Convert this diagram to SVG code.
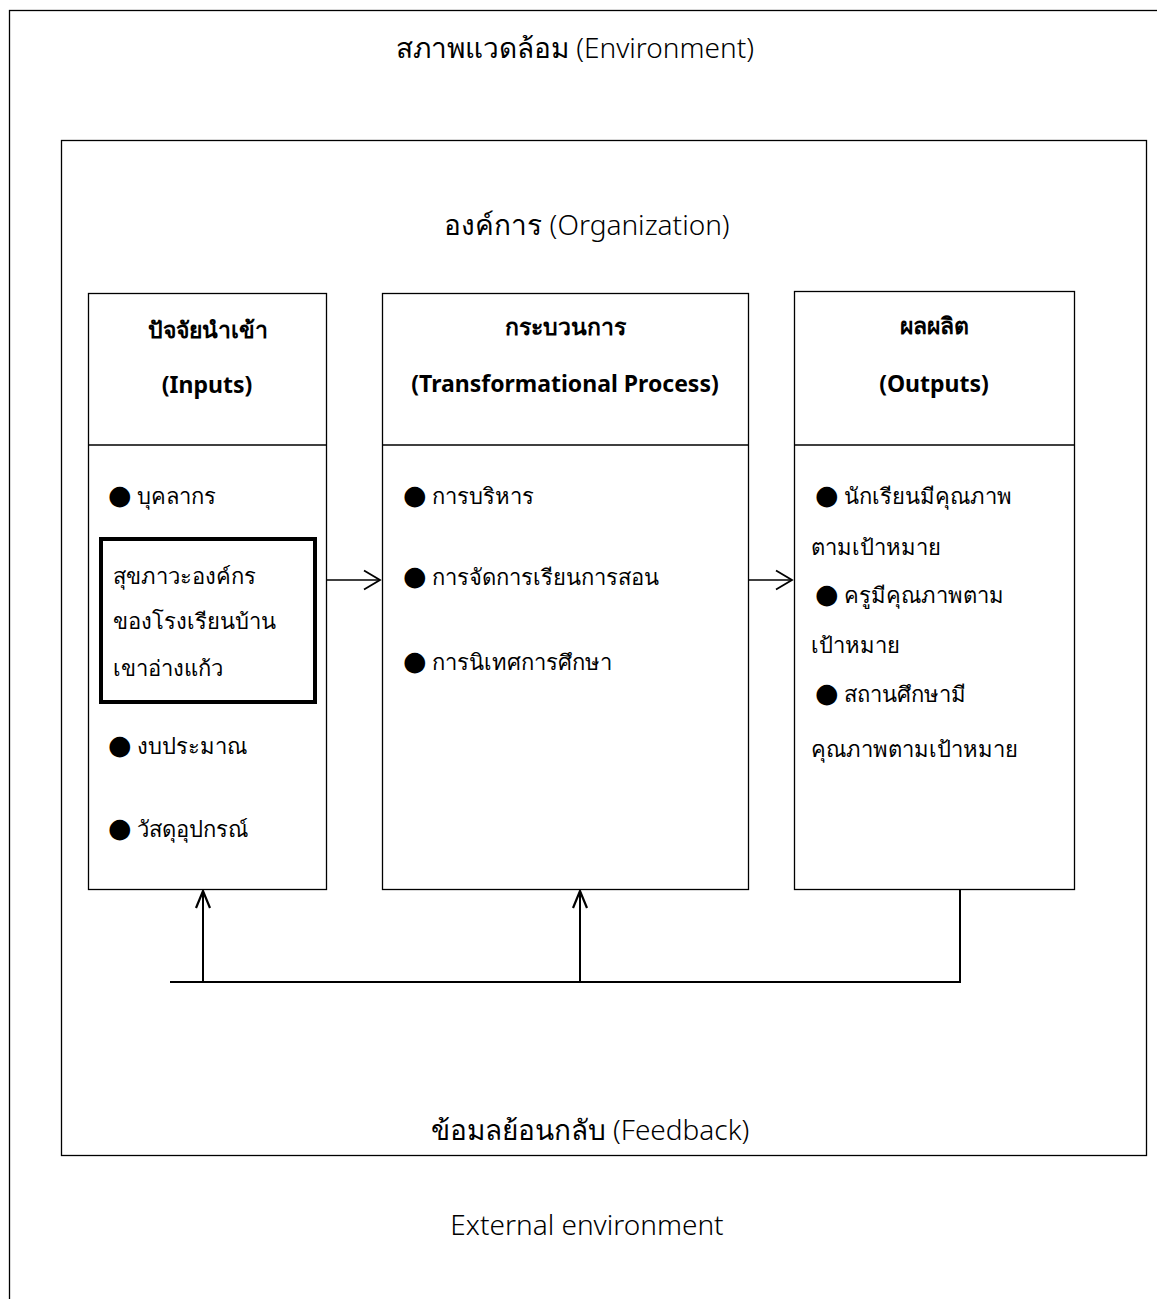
<svg xmlns="http://www.w3.org/2000/svg" width="1157" height="1299" viewBox="0 0 1157 1299">
<defs>
<style>
text{font-family:"Noto Sans","DejaVu Sans","Liberation Sans",sans-serif;fill:#000}
.lbl{font-size:28px;font-weight:300}
.hd{font-size:23px;font-weight:bold;text-anchor:middle}
.it{font-size:22px}
.bl{font-size:27px}
.box{fill:#fff;stroke:#000;stroke-width:1.3}
.ln{stroke:#000;stroke-width:1.3;fill:none}
.con{stroke:#000;stroke-width:2;fill:none}
</style>
<marker id="ah" viewBox="0 0 20 22" refX="18" refY="11" markerWidth="20" markerHeight="22" markerUnits="userSpaceOnUse" orient="auto">
<path d="M2 1.5 L18 11 L2 20.5" fill="none" stroke="#000" stroke-width="1.8"/>
</marker>
<marker id="ahu" viewBox="0 0 20 20" refX="18" refY="10" markerWidth="20" markerHeight="20" markerUnits="userSpaceOnUse" orient="auto">
<path d="M1 3 L18 10 L1 17" fill="none" stroke="#000" stroke-width="2.2"/>
</marker>
</defs>
<rect width="1157" height="1299" fill="#fff"/>
<g id="environment">
<rect x="9.5" y="10.5" width="1160" height="1300" class="box"/>
<text x="575" y="58" class="lbl" text-anchor="middle">สภาพแวดล้อม (Environment)</text>
<text x="587" y="1235" class="lbl" text-anchor="middle">External environment</text>
</g>
<g id="organization">
<rect x="61.5" y="140.5" width="1085" height="1015" class="box"/>
<text x="587" y="235" class="lbl" text-anchor="middle">องค์การ (Organization)</text>
<text x="590" y="1140" class="lbl" text-anchor="middle">ข้อมลย้อนกลับ (Feedback)</text>
</g>
<g id="inputs">
<rect x="88.5" y="293.5" width="238" height="596" class="box"/>
<line x1="88.5" y1="445" x2="326.5" y2="445" class="ln"/>
<text x="208" y="338" class="hd">ปัจจัยนำเข้า</text>
<text x="207" y="393" class="hd">(Inputs)</text>
<text x="108" y="504" class="it"><tspan class="bl">●</tspan> บุคลากร</text>
<text x="108" y="754" class="it"><tspan class="bl">●</tspan> งบประมาณ</text>
<text x="108" y="837" class="it"><tspan class="bl">●</tspan> วัสดุอุปกรณ์</text>
</g>
<g id="health">
<rect x="101" y="539" width="214" height="163" fill="#fff" stroke="#000" stroke-width="4"/>
<text x="113" y="584" class="it">สุขภาวะองค์กร</text>
<text x="113" y="629" class="it">ของโรงเรียนบ้าน</text>
<text x="113" y="676" class="it">เขาอ่างแก้ว</text>
</g>
<g id="process">
<rect x="382.5" y="293.5" width="366" height="596" class="box"/>
<line x1="382.5" y1="445" x2="748.5" y2="445" class="ln"/>
<text x="565" y="335" class="hd">กระบวนการ</text>
<text x="565" y="392" class="hd">(Transformational Process)</text>
<text x="403" y="504" class="it"><tspan class="bl">●</tspan> การบริหาร</text>
<text x="403" y="585" class="it"><tspan class="bl">●</tspan> การจัดการเรียนการสอน</text>
<text x="403" y="670" class="it"><tspan class="bl">●</tspan> การนิเทศการศึกษา</text>
</g>
<g id="outputs">
<rect x="794.5" y="291.5" width="280" height="598" class="box"/>
<line x1="794.5" y1="445" x2="1074.5" y2="445" class="ln"/>
<text x="934" y="334" class="hd">ผลผลิต</text>
<text x="934" y="392" class="hd">(Outputs)</text>
<text x="815" y="504" class="it"><tspan class="bl">●</tspan> นักเรียนมีคุณภาพ</text>
<text x="811" y="555" class="it">ตามเป้าหมาย</text>
<text x="815" y="603" class="it"><tspan class="bl">●</tspan> ครูมีคุณภาพตาม</text>
<text x="811" y="653" class="it">เป้าหมาย</text>
<text x="815" y="702" class="it"><tspan class="bl">●</tspan> สถานศึกษามี</text>
<text x="811" y="757" class="it">คุณภาพตามเป้าหมาย</text>
</g>
<g id="connectors">
<line x1="326.5" y1="580" x2="380" y2="580" class="ln" marker-end="url(#ah)"/>
<line x1="748.5" y1="580" x2="792" y2="580" class="ln" marker-end="url(#ah)"/>
<polyline points="960,890 960,982 170,982" class="con" stroke-width="1.6"/>
<line x1="203" y1="982" x2="203" y2="891" class="con" marker-end="url(#ahu)"/>
<line x1="580" y1="982" x2="580" y2="891" class="con" marker-end="url(#ahu)"/>
</g>
</svg>
